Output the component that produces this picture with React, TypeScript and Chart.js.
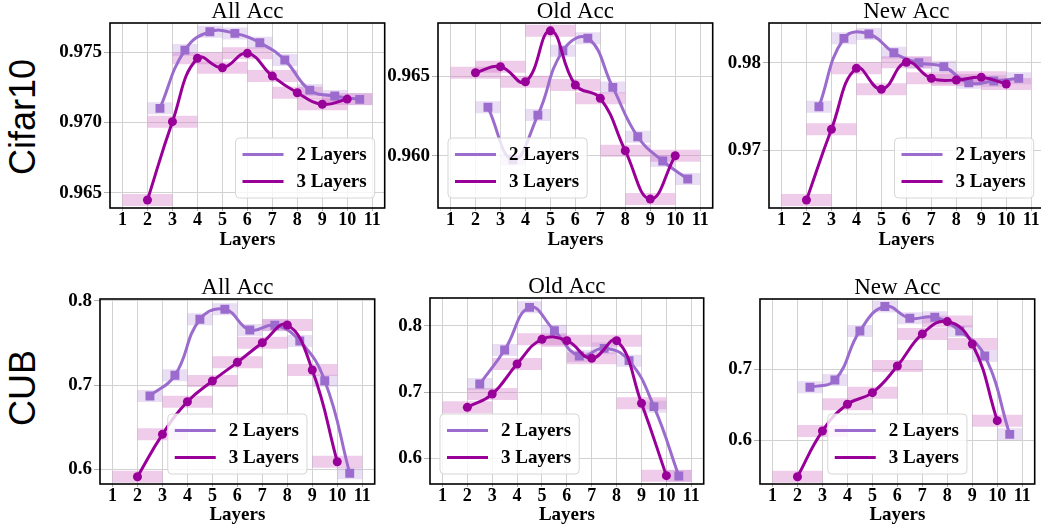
import React, { useEffect, useRef } from "react";
import { Chart, registerables } from "chart.js";

Chart.register(...registerables);
Chart.defaults.font.family = '"Liberation Serif", "Times New Roman", serif';

// ---------------- data ----------------
const X_TICKS = [1, 2, 3, 4, 5, 6, 7, 8, 9, 10, 11];
const X_2L = [2.5, 3.5, 4.5, 5.5, 6.5, 7.5, 8.5, 9.5, 10.5];
const X_3L = [2, 3, 4, 5, 6, 7, 8, 9, 10];
const SERIES = ["2 Layers", "3 Layers"];
const ROWS = ["Cifar10", "CUB"];
const TITLES = ["All Acc", "Old Acc", "New Acc"];
const X_LABEL = "Layers";

const CIFAR_ALL_2L = [0.97101, 0.97516, 0.97647, 0.97635, 0.97568, 0.97445, 0.97231, 0.97189, 0.97165];
const CIFAR_ALL_3L = [0.96448, 0.97006, 0.97457, 0.9739, 0.97493, 0.97331, 0.97212, 0.9713, 0.97167];
const CIFAR_OLD_2L = [0.96304, 0.95975, 0.96255, 0.96659, 0.96737, 0.96429, 0.96119, 0.95967, 0.95854];
const CIFAR_OLD_3L = [0.96521, 0.96559, 0.96464, 0.96784, 0.96444, 0.9636, 0.96031, 0.95728, 0.96];
const CIFAR_NEW_2L = [0.97496, 0.98279, 0.98329, 0.98115, 0.98, 0.97954, 0.97771, 0.9779, 0.97821];
const CIFAR_NEW_3L = [0.96427, 0.97237, 0.97936, 0.97695, 0.98005, 0.97821, 0.97802, 0.97833, 0.97756];
const CUB_ALL_2L = [0.687, 0.7115, 0.7779, 0.7898, 0.7652, 0.7708, 0.7522, 0.7051, 0.5953];
const CUB_ALL_3L = [0.5912, 0.6415, 0.6802, 0.7047, 0.7269, 0.7502, 0.7712, 0.7178, 0.609];
const CUB_OLD_2L = [0.7123, 0.7637, 0.8282, 0.7929, 0.7547, 0.7662, 0.7476, 0.6781, 0.5733];
const CUB_OLD_3L = [0.6771, 0.6972, 0.7426, 0.7798, 0.7778, 0.7511, 0.7778, 0.6831, 0.5738];
const CUB_NEW_2L = [0.6745, 0.6849, 0.7542, 0.7887, 0.7722, 0.7736, 0.7542, 0.7189, 0.608];
const CUB_NEW_3L = [0.5481, 0.6127, 0.6505, 0.667, 0.7047, 0.75, 0.7675, 0.7358, 0.6274];

const CIFAR_ALL_TICKS = [0.965, 0.97, 0.975];
const CIFAR_OLD_TICKS = [0.96, 0.965];
const CIFAR_NEW_TICKS = [0.97, 0.98];
const CUB_ALL_TICKS = [0.6, 0.7, 0.8];
const CUB_OLD_TICKS = [0.6, 0.7, 0.8];
const CUB_NEW_TICKS = [0.6, 0.7];

// ---------------- styles / layout ----------------
const COLOR_2L = "#9b6bcd";
const COLOR_3L = "#990099";
const BOX_2L = "rgba(175, 135, 215, 0.28)";
const BOX_3L = "rgba(210, 120, 200, 0.38)";
const GRID = "#d2d2d2";
const Y_W = 70;
const PAD_R = 6;
const TITLE_SIZE = 23;

const ROW_LAYOUT = [
  { titlePadTop: 0, titlePadBottom: 0, xH: 42, xTick: 3 },
  { titlePadTop: 1, titlePadBottom: 0, xH: 41, xTick: 3 },
];

type PanelSpec = {
  row: number;
  title: string;
  s2: number[];
  s3: number[];
  yMin: number;
  yMax: number;
  yTicks: number[];
  dec: number;
  frame: [number, number, number, number];
  loc: string;
};

const PANELS: PanelSpec[] = [
  { row: 0, title: TITLES[0], s2: CIFAR_ALL_2L, s3: CIFAR_ALL_3L, yMin: 0.96391, yMax: 0.97709, yTicks: CIFAR_ALL_TICKS, dec: 3, frame: [110, 23, 385, 208], loc: "lower right" },
  { row: 0, title: TITLES[1], s2: CIFAR_OLD_2L, s3: CIFAR_OLD_3L, yMin: 0.95672, yMax: 0.96833, yTicks: CIFAR_OLD_TICKS, dec: 3, frame: [438, 23, 713, 208], loc: "lower left" },
  { row: 0, title: TITLES[2], s2: CIFAR_NEW_2L, s3: CIFAR_NEW_3L, yMin: 0.96336, yMax: 0.98455, yTicks: CIFAR_NEW_TICKS, dec: 2, frame: [769, 23, 1044, 208], loc: "lower right" },
  { row: 1, title: TITLES[0], s2: CUB_ALL_2L, s3: CUB_ALL_3L, yMin: 0.5826, yMax: 0.802, yTicks: CUB_ALL_TICKS, dec: 1, frame: [100, 299, 375, 484], loc: "lower center" },
  { row: 1, title: TITLES[1], s2: CUB_OLD_2L, s3: CUB_OLD_3L, yMin: 0.5612, yMax: 0.8423, yTicks: CUB_OLD_TICKS, dec: 1, frame: [430, 298, 704, 484], loc: "lower left" },
  { row: 1, title: TITLES[2], s2: CUB_NEW_2L, s3: CUB_NEW_3L, yMin: 0.5378, yMax: 0.7994, yTicks: CUB_NEW_TICKS, dec: 1, frame: [760, 299, 1035, 484], loc: "lower center" },
];

function boxDatasets(xs: number[], ys: number[], half: number, color: string, order: number) {
  return xs.map((x, i) => ({
    label: "box",
    data: [
      { x: x - half, y: ys[i] },
      { x: x + half, y: ys[i] },
    ],
    borderColor: color,
    backgroundColor: color,
    borderWidth: 12,
    borderCapStyle: "butt",
    pointRadius: 0,
    pointHoverRadius: 0,
    tension: 0,
    fill: false,
    order,
    inLegend: false,
  }));
}

const frameLegendPlugin = {
  id: "frameLegend",
  afterDraw(chart: any, _args: any, opts: any) {
    const ctx = chart.ctx as CanvasRenderingContext2D;
    const a = chart.chartArea;
    const items = chart.data.datasets.filter((d: any) => d.inLegend);
    ctx.save();
    const fs = 19;
    ctx.font = `bold ${fs}px "Liberation Serif", serif`;
    const textW = Math.max(...items.map((d: any) => ctx.measureText(d.label).width));
    const lineLen = 41;
    const w = 7 + lineLen + 13 + textW + 8;
    const h = 60;
    let x0: number;
    if (opts.loc === "lower right") x0 = a.right - 10 - w;
    else if (opts.loc === "lower left") x0 = a.left + 10;
    else x0 = (a.left + a.right) / 2 - w / 2;
    const y0 = a.bottom - 10 - h;
    ctx.beginPath();
    if ((ctx as any).roundRect) (ctx as any).roundRect(x0, y0, w, h, 4);
    else ctx.rect(x0, y0, w, h);
    ctx.fillStyle = "rgba(255,255,255,0.8)";
    ctx.fill();
    ctx.strokeStyle = "#d6d6d6";
    ctx.lineWidth = 1;
    ctx.stroke();
    items.forEach((d: any, i: number) => {
      const cy = y0 + 16.5 + i * 27;
      ctx.beginPath();
      ctx.moveTo(x0 + 7, cy);
      ctx.lineTo(x0 + 7 + lineLen, cy);
      ctx.strokeStyle = d.borderColor;
      ctx.lineWidth = 3;
      ctx.stroke();
      ctx.fillStyle = "#000";
      ctx.textBaseline = "middle";
      ctx.textAlign = "left";
      ctx.fillText(d.label, x0 + 7 + lineLen + 13, cy + 1);
    });
    // frame
    ctx.strokeStyle = "#000";
    ctx.lineWidth = 1.6;
    ctx.strokeRect(a.left, a.top, a.right - a.left, a.bottom - a.top);
    ctx.restore();
  },
};

function PanelChart({ p }: { p: PanelSpec }) {
  const ref = useRef<HTMLCanvasElement>(null);
  const [L, T, R, B] = p.frame;
  const lay = ROW_LAYOUT[p.row];
  const titleH = TITLE_SIZE + lay.titlePadTop + lay.titlePadBottom;
  const cw = R - L + Y_W + PAD_R;
  const ch = titleH + (B - T) + lay.xH;

  useEffect(() => {
    if (!ref.current) return;
    const datasets: any[] = [
      {
        label: SERIES[0],
        data: X_2L.map((x, i) => ({ x, y: p.s2[i] })),
        borderColor: COLOR_2L,
        backgroundColor: COLOR_2L,
        pointBackgroundColor: COLOR_2L,
        pointBorderColor: COLOR_2L,
        pointStyle: "rect",
        pointRadius: 6.3,
        pointBorderWidth: 0,
        borderWidth: 3,
        tension: 0.45,
        fill: false,
        order: 1,
        inLegend: true,
      },
      {
        label: SERIES[1],
        data: X_3L.map((x, i) => ({ x, y: p.s3[i] })),
        borderColor: COLOR_3L,
        backgroundColor: COLOR_3L,
        pointBackgroundColor: COLOR_3L,
        pointBorderColor: COLOR_3L,
        pointStyle: "circle",
        pointRadius: 4.5,
        pointBorderWidth: 0,
        borderWidth: 3,
        tension: 0.45,
        fill: false,
        order: 0,
        inLegend: true,
      },
      ...boxDatasets(X_3L, p.s3, 1, BOX_3L, 2),
      ...boxDatasets(X_2L, p.s2, 0.5, BOX_2L, 3),
    ];
    const chart = new Chart(ref.current, {
      type: "line",
      data: { datasets },
      options: {
        animation: false,
        responsive: false,
        devicePixelRatio: 1,
        events: [],
        layout: { padding: { left: 0, right: PAD_R, top: 0, bottom: 0 } },
        plugins: {
          legend: { display: false },
          tooltip: { enabled: false },
          title: {
            display: true,
            fullSize: false,
            text: p.title,
            color: "#000",
            font: { size: TITLE_SIZE, weight: "normal", lineHeight: 1 },
            padding: { top: lay.titlePadTop, bottom: lay.titlePadBottom },
          },
          frameLegend: { loc: p.loc },
        } as any,
        scales: {
          x: {
            type: "linear",
            min: 0.5,
            max: 11.5,
            afterBuildTicks: (s: any) => {
              s.ticks = X_TICKS.map((v) => ({ value: v }));
            },
            afterFit: (s: any) => {
              s.height = lay.xH;
            },
            ticks: {
              color: "#000",
              font: { size: 18, weight: "bold", lineHeight: 1 },
              padding: 0,
              maxRotation: 0,
              autoSkip: false,
              callback: (v: any) => String(v),
            },
            grid: { color: GRID, lineWidth: 1, tickLength: lay.xTick, tickColor: "#b0b0b0" },
            border: { display: false },
            title: {
              display: true,
              text: X_LABEL,
              color: "#000",
              font: { size: 19, weight: "bold", lineHeight: 1 },
              padding: { top: 0, bottom: 0 },
            },
          },
          y: {
            type: "linear",
            min: p.yMin,
            max: p.yMax,
            afterBuildTicks: (s: any) => {
              s.ticks = p.yTicks.map((v) => ({ value: v }));
            },
            afterFit: (s: any) => {
              s.width = Y_W;
            },
            ticks: {
              color: "#000",
              font: { size: 19, weight: "bold", lineHeight: 1 },
              padding: 2,
              callback: (v: any) => Number(v).toFixed(p.dec),
            },
            grid: { color: GRID, lineWidth: 1, tickLength: 6, tickColor: "#b0b0b0" },
            border: { display: false },
          },
        },
      } as any,
      plugins: [frameLegendPlugin as any],
    });
    return () => chart.destroy();
  }, []);

  return (
    <canvas
      ref={ref}
      width={cw}
      height={ch}
      style={{ position: "absolute", left: L - Y_W, top: T - titleH, width: cw, height: ch }}
    />
  );
}

const ROW_CENTERS = [117, 387.5];

export default function App() {
  return (
    <div
      style={{
        position: "absolute",
        left: 0,
        top: 0,
        width: 1041,
        height: 529,
        overflow: "hidden",
        background: "#fff",
      }}
    >
      {ROWS.map((r, i) => (
        <div
          key={r}
          style={{
            position: "absolute",
            left: 22.8,
            top: ROW_CENTERS[i],
            transform: "translate(-50%, -50%) rotate(-90deg)",
            fontFamily: '"Liberation Sans", Arial, sans-serif',
            fontSize: 36,
            whiteSpace: "nowrap",
            color: "#000",
            lineHeight: "normal",
          }}
        >
          {r}
        </div>
      ))}
      {PANELS.map((p, i) => (
        <PanelChart key={i} p={p} />
      ))}
    </div>
  );
}
